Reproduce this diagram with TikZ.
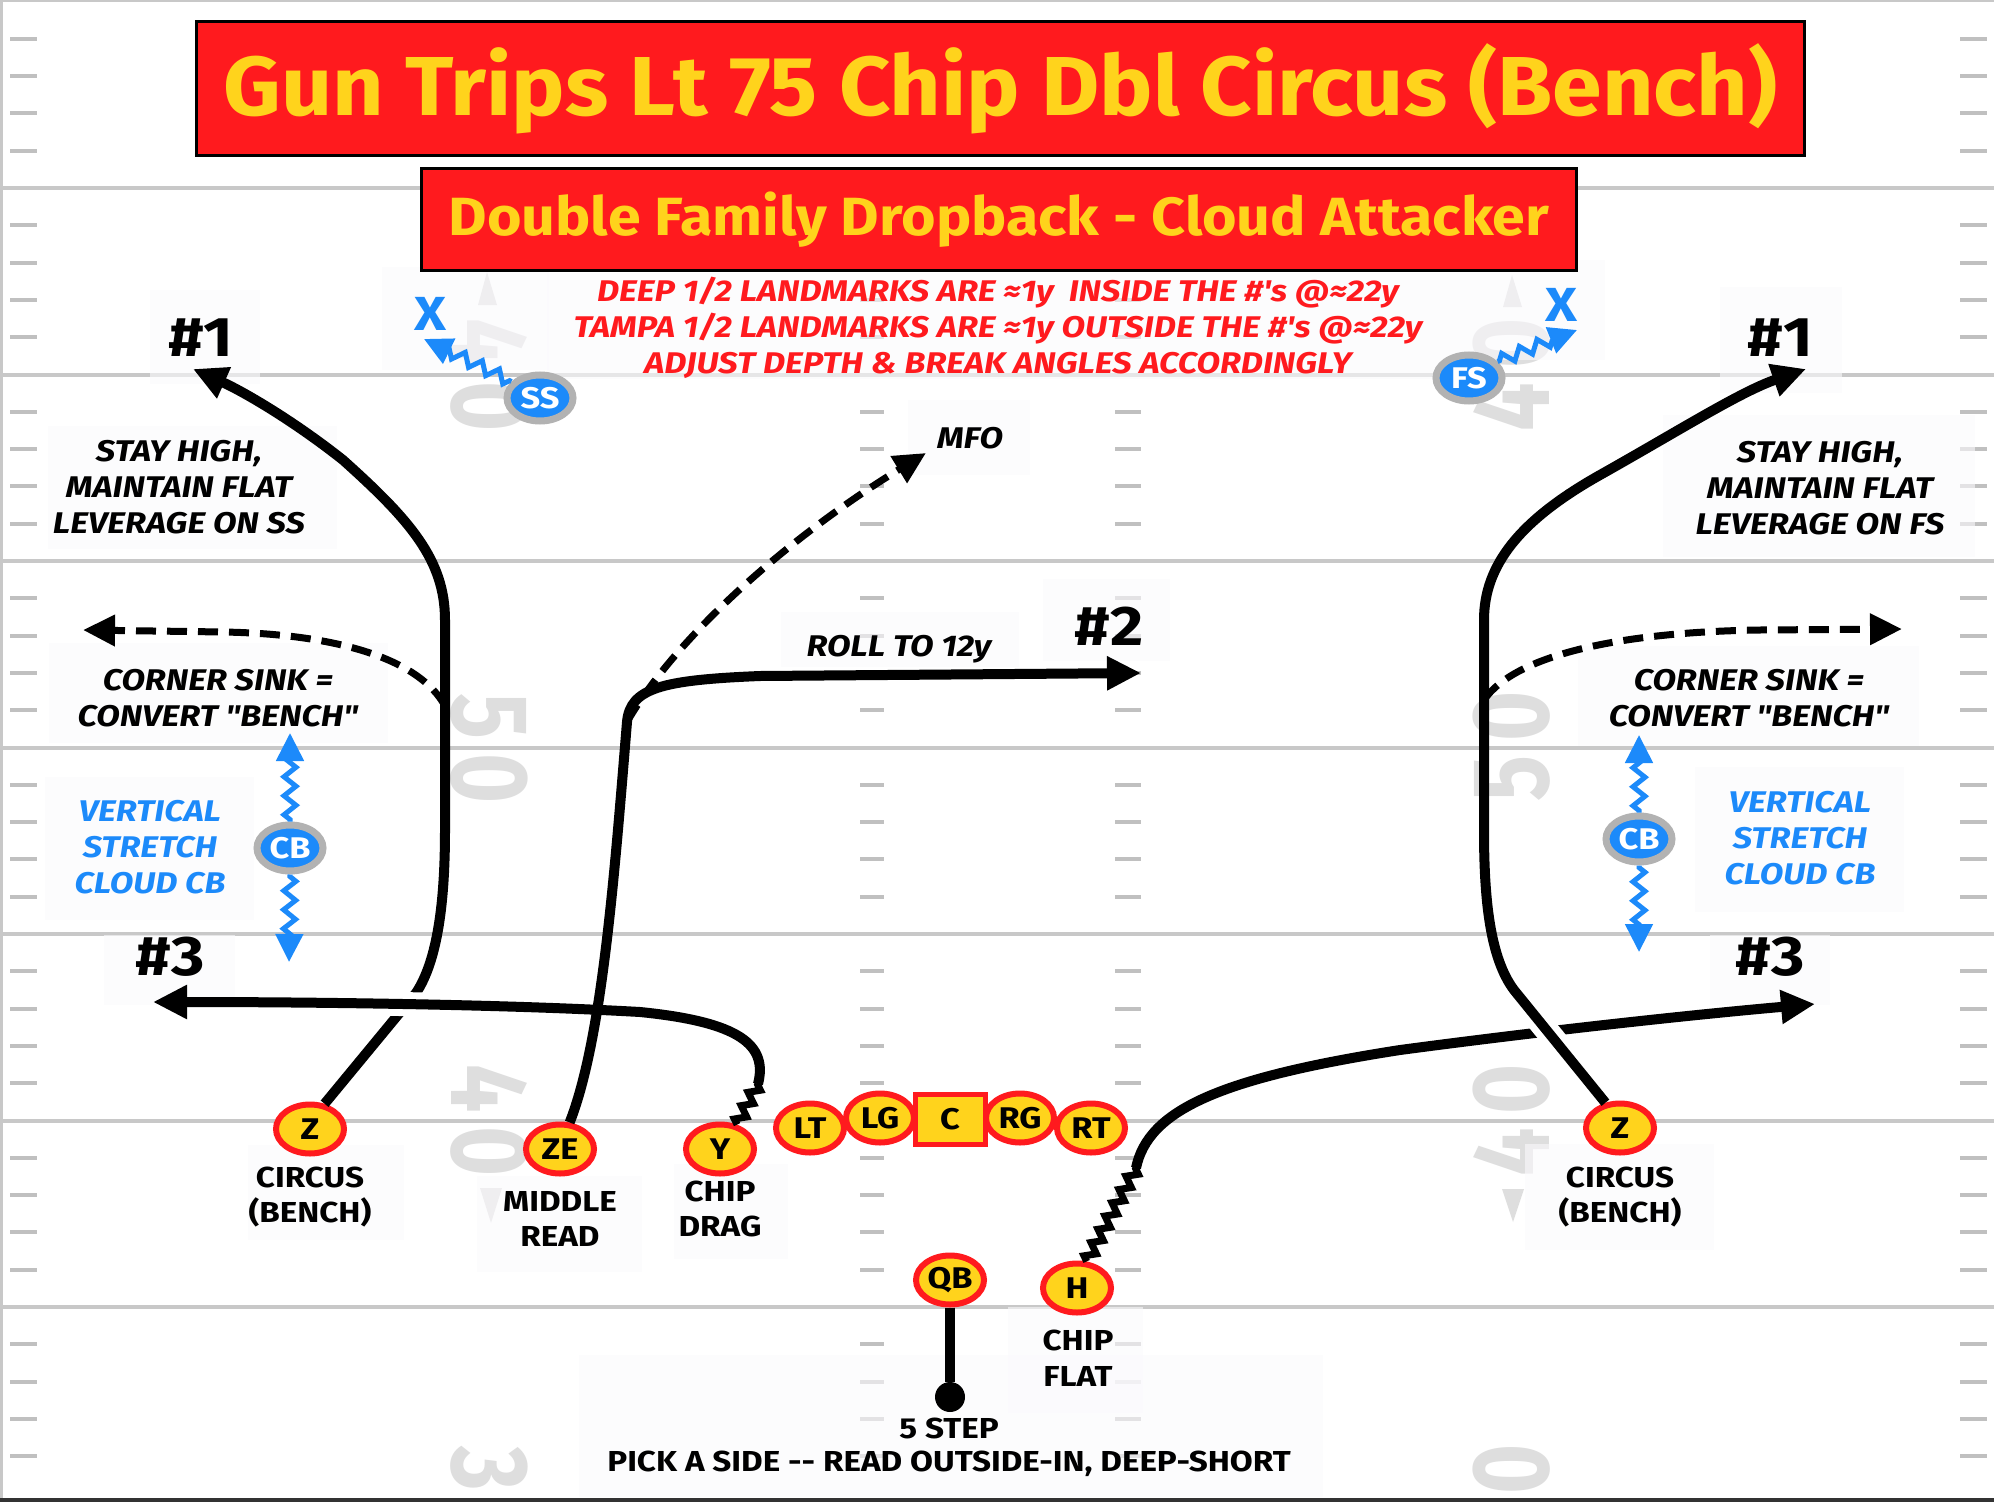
\documentclass[tikz,border=0pt]{standalone}
\usepackage{fontspec}
\setmainfont{Fira Sans}[Ligatures=TeXOff, FakeStretch=1.15]
\newfontfamily\titlefont{Fira Sans}[Ligatures=TeXOff, FakeStretch=1.07]
\newfontfamily\subfont{Fira Sans}[Ligatures=TeXOff, FakeStretch=1.1]
\usetikzlibrary{arrows.meta,shapes.geometric,decorations.pathmorphing}
\definecolor{fieldline}{RGB}{200,200,200}
\definecolor{hashc}{RGB}{192,192,192}
\definecolor{numc}{RGB}{222,222,222}
\definecolor{pyellow}{RGB}{255,211,28}
\definecolor{pred}{RGB}{255,26,30}
\definecolor{dblue}{RGB}{28,138,250}
\definecolor{dgrey}{RGB}{178,178,178}
\definecolor{bgc}{RGB}{251,250,253}
\newcommand\myfs[2]{\fontsize{#1}{#2}\selectfont}
\tikzset{
 player/.style={ellipse, draw=pred, fill=pyellow, line width=6bp, minimum width=68bp, minimum height=49bp, inner sep=0pt, font=\myfs{30}{32}\bfseries},
 cbox/.style={rectangle, draw=pred, fill=pyellow, line width=5bp, minimum width=70bp, minimum height=50bp, inner sep=0pt, font=\myfs{30}{32}\bfseries},
 defender/.style={ellipse, draw=dgrey, fill=dblue, line width=7bp, minimum width=66bp, minimum height=46bp, inner sep=0pt, text=white, font=\myfs{30}{32}\bfseries},
 route/.style={line width=10bp, line join=round},
 rarrow/.style={route, -{Triangle[length=34bp,width=32bp]}},
 dasharrow/.style={line width=7bp, dash pattern=on 20bp off 11bp, -{Triangle[length=32bp,width=30bp]}},
 chip/.style={line width=7bp, decorate, decoration={zigzag, segment length=15bp, amplitude=5bp}},
 bluezig/.style={dblue, line width=5bp, decorate, decoration={zigzag, segment length=19bp, amplitude=6bp, pre length=2bp, post length=18bp}, -{Triangle[length=28bp,width=27bp]}},
 lbl/.style={align=center, inner sep=0pt, font=\myfs{29}{36}\bfseries},
 ilbl/.style={align=center, inner sep=0pt, font=\myfs{30}{36}\bfseries\itshape},
 numlbl/.style={inner sep=0pt, font=\myfs{56}{56}\bfseries},
 xlbl/.style={inner sep=0pt, text=dblue, font=\myfs{48}{48}\bfseries},
 yardno/.style={inner sep=0pt, text=numc, font=\myfs{110}{110}\bfseries},
 bgbox/.style={fill=bgc, fill opacity=0.6},
 banner/.style={draw=black, fill=pred, line width=3bp, inner sep=0pt, text=pyellow},
}
\begin{document}
\begin{tikzpicture}[x=1bp,y=-1bp]
\useasboundingbox (0,0) rectangle (1994,1502);
\fill[white] (0,0) rectangle (1994,1502);
% ---- field ----
\foreach \k in {-4,...,34}{
  \pgfmathtruncatemacro\m{mod(\k+100,5)}
  \ifnum\m=0\relax\else
    \pgfmathsetmacro\yy{188+37.3*\k}
    \draw[hashc, line width=4bp] (10,\yy) -- (37,\yy);
    \draw[hashc, line width=4bp] (1960,\yy) -- (1987,\yy);
    \draw[hashc, line width=4bp] (860,\yy) -- (884,\yy);
    \draw[hashc, line width=4bp] (1115,\yy) -- (1141,\yy);
  \fi
}
\foreach \yy in {188,374.5,561,747.5,934,1120.5,1307}
  \draw[fieldline, line width=4bp] (0,\yy) -- (1994,\yy);
\draw[fieldline, line width=3bp] (0,1) -- (1994,1);
\draw[fieldline, line width=3bp] (1.5,0) -- (1.5,1502);
\fill[black!80] (0,1497.5) rectangle (1994,1502);
% yard numbers
\foreach \d/\yy [count=\i] in {4/343,0/407,5/716,0/779,4/1089,0/1152,3/1469}
  \node[yardno, rotate=-90] (ynl\i) at (489,\yy) {\scalebox{0.68}[1]{\d}};
\foreach \d/\yy [count=\i] in {0/343,4/407,0/716,5/779,0/1089,4/1152,0/1469}
  \node[yardno, rotate=90] (ynr\i) at (1512,\yy) {\scalebox{0.68}[1]{\d}};
\fill[numc] (487,272) -- (478,305) -- (497,305) -- cycle;
\fill[numc] (491,1223) -- (480,1188) -- (502,1188) -- cycle;
\fill[numc] (1512,275) -- (1503,307) -- (1522,307) -- cycle;
\fill[numc] (1513,1222) -- (1502,1189) -- (1524,1189) -- cycle;
% faint label boxes
\fill[bgbox] (150,290) rectangle (260,384);
\fill[bgbox] (1720,287) rectangle (1842,393);
\fill[bgbox] (48,426) rectangle (337,549);
\fill[bgbox] (1663,415) rectangle (1975,557);
\fill[bgbox] (49,643) rectangle (388,743);
\fill[bgbox] (1578,646) rectangle (1919,746);
\fill[bgbox] (45,777) rectangle (254,920);
\fill[bgbox] (1695,767) rectangle (1904,912);
\fill[bgbox] (547,273) rectangle (1450,379);
\fill[bgbox] (382,267) rectangle (549,370);
\fill[bgbox] (1450,260) rectangle (1605,360);
\fill[bgbox] (908,400) rectangle (1030,475);
\fill[bgbox] (781,612) rectangle (1019,667);
\fill[bgbox] (1043,579) rectangle (1170,661);
\fill[bgbox] (104,935) rectangle (235,1005);
\fill[bgbox] (1710,935) rectangle (1830,1005);
\fill[bgbox] (248,1145) rectangle (404,1240);
\fill[bgbox] (1525,1144) rectangle (1714,1250);
\fill[bgbox] (477,1176) rectangle (642,1272);
\fill[bgbox] (674,1164) rectangle (788,1259);
\fill[bgbox] (1008,1307) rectangle (1143,1413);
\fill[bgbox] (579,1355) rectangle (1323,1497);
% ---- banners ----
\node[banner, minimum width=1608bp, minimum height=134bp, font=\titlefont\myfs{84}{84}\bfseries] (title) at (1000.5,88.5) {Gun Trips Lt 75 Chip Dbl Circus (Bench)};
\node[banner, minimum width=1155bp, minimum height=102bp, font=\subfont\myfs{54}{54}\bfseries] (subtitle) at (999,219.5) {Double Family Dropback - Cloud Attacker};
\node[ilbl, text=pred] (notes) at (998,328) {DEEP 1/2 LANDMARKS ARE ≈1y\enspace INSIDE THE \#'s @≈22y\\TAMPA 1/2 LANDMARKS ARE ≈1y OUTSIDE THE \#'s @≈22y\\ADJUST DEPTH \& BREAK ANGLES ACCORDINGLY};
% ---- players ----
\node[player] (zl) at (310,1129) {Z};
\node[player] (ze) at (560,1149) {ZE};
\node[player] (y) at (720,1149) {Y};
\node[player] (lt) at (810,1128) {LT};
\node[player] (lg) at (880,1118) {LG};
\node[cbox] (c) at (950,1119.5) {C};
\node[player] (rt) at (1091,1128) {RT};
\node[player] (rg) at (1020,1118) {RG};
\node[player] (qb) at (950,1280) {QB};
\node[player] (h) at (1077,1288) {H};
\node[player] (zr) at (1620,1128) {Z};
\node[defender] (ss) at (540,398) {SS};
\node[defender] (fs) at (1469,378) {FS};
\node[defender] (cbl) at (290,848) {CB};
\node[defender] (cbr) at (1639,839) {CB};
\node[xlbl] (xl) at (430,314) {X};
\node[xlbl] (xr) at (1561,305) {X};
\node[circle, fill=black, minimum size=30bp, inner sep=0pt] (qbd) at (950,1397) {};
% ---- coordinates ----
\coordinate (zltip) at (193,369);
\coordinate (zrtip) at (1806,369);
\coordinate (csl) at (445,706);
\coordinate (csltip) at (83,630);
\coordinate (csr) at (1484,700);
\coordinate (csrtip) at (1902,629);
\coordinate (ychip) at (758,1084);
\coordinate (ytip) at (153,1002);
\coordinate (hchip) at (1136,1168);
\coordinate (hrtip) at (1815,1004);
\coordinate (zecorner) at (627,722);
\coordinate (n2tip) at (1141,673);
\coordinate (mfotip) at (926,453);
\coordinate (ssx) at (424,339);
\coordinate (fsx) at (1577,330);
\coordinate (cblu) at (290,733);
\coordinate (cbld) at (289,962);
\coordinate (cbru) at (1639,735);
\coordinate (cbrd) at (1639,952);
% ---- routes ----
\draw[rarrow] (zl.60) -- (416,993) .. controls (438,960) and (445,900) .. (445,830) -- (445,620) .. controls (445,560) and (410,520) .. (343,460) .. controls (290,418) and (240,390) .. (zltip);
\draw[dasharrow] (csl) .. controls (420,660) and (340,634) .. (223,632) -- (csltip);
\draw[chip] (y.55) -- (ychip);
\begin{scope}
  \clip (385,975) rectangle (440,1035);
  \draw[white, line width=24bp] (ychip) .. controls (768,1045) and (740,1022) .. (640,1012) .. controls (500,1004) and (300,1002) .. (ytip);
\end{scope}
\draw[rarrow] (ychip) .. controls (768,1045) and (740,1022) .. (640,1012) .. controls (500,1004) and (300,1002) .. (ytip);
\draw[rarrow] (ze.70) .. controls (602,1040) and (614,880) .. (zecorner) .. controls (630,688) and (662,680) .. (760,676) -- (n2tip);
\draw[dasharrow] (zecorner) .. controls (680,630) and (800,530) .. (mfotip);
\draw[route] (qb.south) -- (qbd);
\draw[chip] (h.70) -- (hchip);
\draw[rarrow] (hchip) .. controls (1148,1110) and (1220,1078) .. (1400,1050) .. controls (1550,1030) and (1700,1014) .. (hrtip);
\begin{scope}
  \clip (1512,1000) rectangle (1580,1062);
  \draw[white, line width=24bp] (zr.120) -- (1514,990);
\end{scope}
\draw[rarrow] (zr.120) -- (1514,990) .. controls (1490,958) and (1484,900) .. (1484,830) -- (1484,620) .. controls (1484,565) and (1520,520) .. (1600,475) .. controls (1680,430) and (1740,392) .. (zrtip);
\draw[dasharrow] (csr) .. controls (1515,655) and (1620,632) .. (1760,630) -- (csrtip);
\draw[bluezig] (ss.150) -- (ssx);
\draw[bluezig] (fs.30) -- (fsx);
\draw[bluezig] (cbl.north) -- (cblu);
\draw[bluezig] (cbl.south) -- (cbld);
\draw[bluezig] (cbr.north) -- (cbru);
\draw[bluezig] (cbr.south) -- (cbrd);
% ---- labels ----
\node[numlbl] (n1l) at (201,338) {\#1};
\node[numlbl] (n1r) at (1780,338) {\#1};
\node[numlbl] (n2) at (1109,626) {\#2};
\node[numlbl] (n3l) at (170,957) {\#3};
\node[numlbl] (n3r) at (1770,957) {\#3};
\node[ilbl] (mfo) at (970,438) {MFO};
\node[ilbl] (roll) at (899,649) {ROLL TO 12y};
\node[ilbl] (stayl) at (179,487) {STAY HIGH,\\MAINTAIN FLAT\\LEVERAGE ON SS};
\node[ilbl] (stayr) at (1820,488) {STAY HIGH,\\MAINTAIN FLAT\\LEVERAGE ON FS};
\node[ilbl] (sinkl) at (218,698) {CORNER SINK =\\CONVERT "BENCH"};
\node[ilbl] (sinkr) at (1749,698) {CORNER SINK =\\CONVERT "BENCH"};
\node[ilbl, text=dblue] (vertl) at (150,847) {VERTICAL\\STRETCH\\CLOUD CB};
\node[ilbl, text=dblue] (vertr) at (1800,838) {VERTICAL\\STRETCH\\CLOUD CB};
\node[lbl] (circl) at (310,1197) {CIRCUS\\(BENCH)};
\node[lbl] (circr) at (1620,1197) {CIRCUS\\(BENCH)};
\node[lbl] (midr) at (560,1219) {MIDDLE\\READ};
\node[lbl] (chipd) at (720,1209) {CHIP\\DRAG};
\node[lbl] (chipf) at (1078,1358) {CHIP\\FLAT};
\node[lbl] (step) at (949,1428) {5 STEP};
\node[lbl] (pick) at (949,1464) {PICK A SIDE -{}- READ OUTSIDE-IN, DEEP-SHORT};
\end{tikzpicture}
\end{document}
